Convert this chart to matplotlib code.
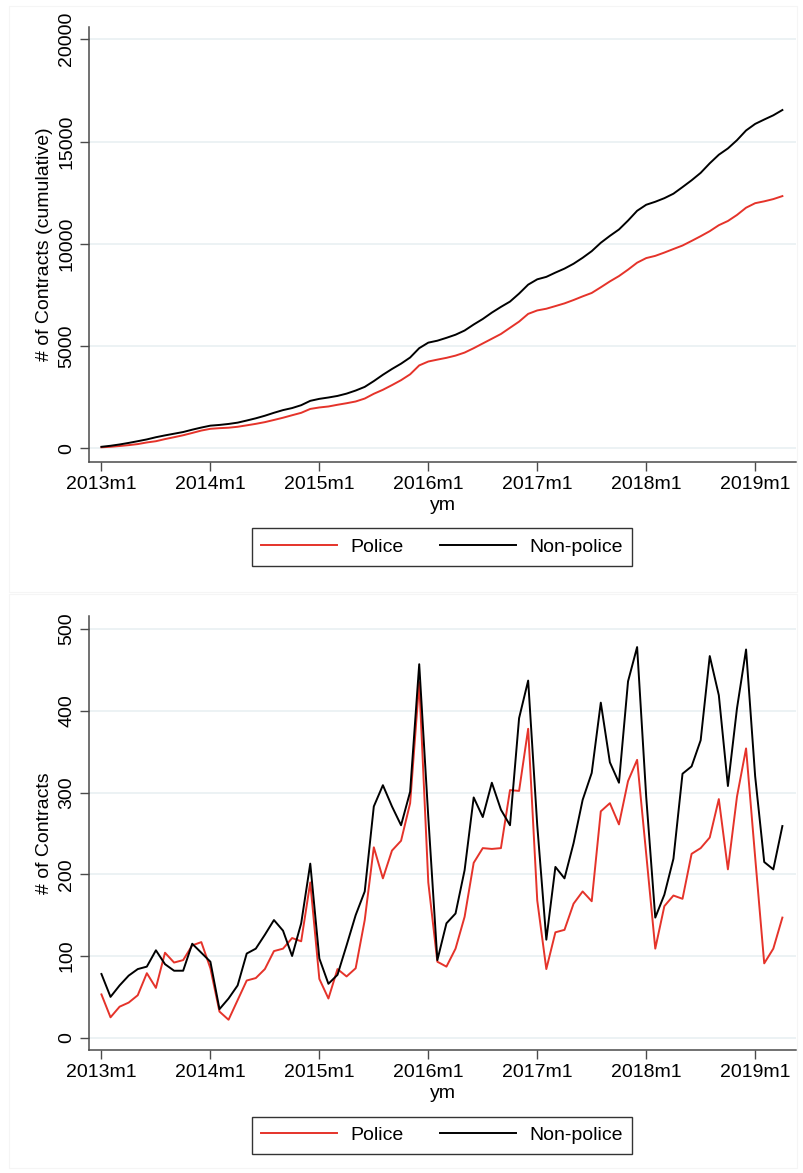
"""
plot.py — Police vs non-police contracts, monthly and cumulative.
"""

import matplotlib
matplotlib.use("Agg")
import matplotlib.pyplot as plt
from matplotlib.patches import Rectangle
import numpy as np

plt.rcParams["font.family"] = ["Liberation Sans", "DejaVu Sans"]

# months 2013m1 .. 2019m4 (76 months)
years = [2013, 2014, 2015, 2016, 2017, 2018, 2019]
tick_labels = [f"{y}m1" for y in years]

police = [
    53, 25, 38, 43, 52, 79, 61, 104, 92, 95, 113, 117,
    85, 32, 22, 46, 70, 73, 84, 106, 109, 122, 118, 190,
    72, 48, 84, 75, 85, 144, 233, 195, 229, 241, 287, 435,
    190, 93, 87, 109, 148, 214, 232, 231, 232, 303, 302, 378,
    168, 84, 129, 132, 164, 179, 167, 277, 287, 261, 314, 340,
    225, 109, 161, 174, 170, 225, 232, 245, 292, 206, 295, 354,
    221, 91, 109, 147,
]
non_police = [
    78, 50, 64, 76, 84, 87, 107, 90, 82, 82, 115, 104,
    93, 35, 48, 64, 103, 109, 126, 144, 131, 100, 140, 213,
    97, 66, 77, 113, 150, 179, 283, 309, 283, 260, 301, 457,
    270, 95, 140, 152, 205, 294, 270, 312, 279, 260, 391, 437,
    260, 120, 209, 195, 238, 291, 324, 410, 337, 312, 436, 478,
    295, 147, 175, 219, 323, 332, 364, 467, 419, 308, 403, 475,
    320, 215, 206, 259,
]

RED = "#E5332A"
GRID = "#EAF1F3"
SPINE = "#4a4a4a"
FS = 14

W, H = 804, 1173
fig = plt.figure(figsize=(W / 100, H / 100), dpi=100)

# faint graph-region outlines (Stata style)
for y0, y1 in [(6, 592), (594, 1168)]:
    fig.patches.append(Rectangle((9 / W, 1 - y1 / H), 788 / W, (y1 - y0) / H,
                                 transform=fig.transFigure, fill=False,
                                 edgecolor="#f5f5f5", linewidth=0.8))


def style_axis(ax, ylim, yticks, ylabel):
    months = np.arange(len(police))
    ax.set_xlim(-1.37, 76.5)
    ax.set_ylim(*ylim)
    ax.set_yticks(yticks)
    ax.set_yticklabels([str(v) for v in yticks], rotation=90, va="center",
                       fontsize=FS)
    ax.set_xticks(months[::12])
    ax.set_xticklabels(tick_labels, fontsize=FS)
    for s in ["top", "right"]:
        ax.spines[s].set_visible(False)
    for s in ["left", "bottom"]:
        ax.spines[s].set_color(SPINE)
        ax.spines[s].set_linewidth(1.1)
    ax.tick_params(axis="both", length=6.5, width=1.0, color=SPINE,
                   pad=3.5, labelcolor="black")
    ax.grid(axis="y", color=GRID, linewidth=1.3, zorder=0)
    ax.set_axisbelow(True)
    ax.set_xlabel("ym", fontsize=FS, labelpad=3)
    ax.set_ylabel(ylabel, fontsize=FS, labelpad=4)


def add_legend(ax, yc):
    leg = ax.legend(loc="center", bbox_to_anchor=(442 / W, 1 - yc / H),
                    bbox_transform=fig.transFigure, ncol=2, fontsize=FS,
                    frameon=True, fancybox=False, handlelength=3.9,
                    handletextpad=0.67, columnspacing=1.9, borderpad=0.5)
    leg.get_frame().set_edgecolor("black")
    leg.get_frame().set_linewidth(1.0)


# top: cumulative
ax1 = fig.add_axes([89 / W, 1 - 462 / H, 707 / W, 435 / H])
months = np.arange(len(police))
ax1.plot(months, np.cumsum(police), color=RED, linewidth=1.4, label="Police")
ax1.plot(months, np.cumsum(non_police), color="black", linewidth=1.4,
         label="Non-police")
style_axis(ax1, (-665, 20600), [0, 5000, 10000, 15000, 20000],
           "# of Contracts (cumulative)")
add_legend(ax1, 547)

# bottom: monthly
ax2 = fig.add_axes([89 / W, 1 - 1050 / H, 707 / W, 434 / H])
ax2.plot(months, police, color=RED, linewidth=1.4, label="Police")
ax2.plot(months, non_police, color="black", linewidth=1.4, label="Non-police")
style_axis(ax2, (-15, 516), [0, 100, 200, 300, 400, 500], "# of Contracts")
add_legend(ax2, 1135.5)

fig.savefig("out.png", dpi=100)
